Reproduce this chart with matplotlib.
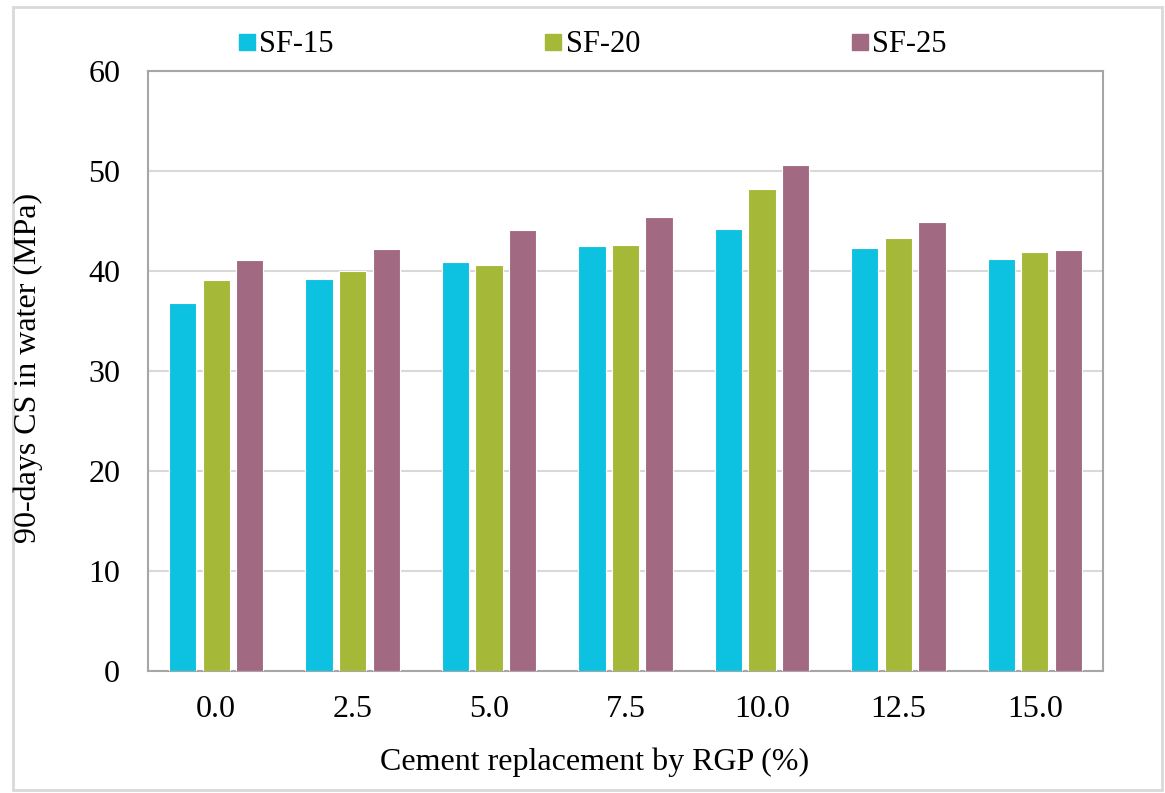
import numpy as np
import matplotlib.pyplot as plt
from matplotlib.patches import Rectangle
from matplotlib.lines import Line2D

plt.rcParams['font.family'] = ['Liberation Serif', 'DejaVu Serif']

categories = ['0.0', '2.5', '5.0', '7.5', '10.0', '12.5', '15.0']
sf15 = [36.8, 39.2, 40.9, 42.5, 44.2, 42.3, 41.2]
sf20 = [39.1, 40.0, 40.6, 42.6, 48.2, 43.3, 41.9]
sf25 = [41.1, 42.2, 44.1, 45.4, 50.6, 44.9, 42.1]
series = ['SF-15', 'SF-20', 'SF-25']
colors = ['#0DC1E0', '#A6B837', '#A26A82']

fig = plt.figure(figsize=(11.65, 7.93), dpi=100)
ax = fig.add_axes([148/1165, 1 - 671/793, (1103-148)/1165, 600/793])

x = np.arange(len(categories))
step = 0.246
for i, (vals, c) in enumerate(zip([sf15, sf20, sf25], colors)):
    ax.bar(x + (i - 1) * step, vals, width=0.2, color=c, edgecolor='white',
           linewidth=0.8, zorder=3)

ax.set_xlim(-0.5, len(categories) - 0.5)
ax.set_ylim(0, 60)
ax.set_yticks(range(0, 61, 10))
ax.set_xticks(x)
ax.set_xticklabels(categories)
ax.grid(axis='y', color='#D9D9D9', linewidth=1.5, zorder=0)
ax.tick_params(length=0, labelsize=23)
ax.tick_params(axis='y', pad=20)
ax.tick_params(axis='x', pad=17)
for s in ax.spines.values():
    s.set_color('#A6A6A6')
    s.set_linewidth(1.5)

fig.text(595/1165, 1 - 762/793, 'Cement replacement by RGP (%)', ha='center',
         va='center', fontsize=23)
fig.text(28/1165, 1 - 368/793, '90-days CS in water (MPa)', ha='center',
         va='center', rotation=90, fontsize=23)

handles = [Line2D([], [], marker='s', linestyle='none', markersize=11,
                  markerfacecolor=c, markeredgecolor=c) for c in colors]
fig.legend(handles, series, loc='center', ncol=3, frameon=False, fontsize=22,
           bbox_to_anchor=(592/1165, 1 - 45/793), columnspacing=6.9,
           handletextpad=0.1, handlelength=0.6)

fig.patches.append(Rectangle((13/1165, 3/793), 1149/1165, 783/793,
                             transform=fig.transFigure, fill=False,
                             edgecolor='#D9D9D9', linewidth=2))

fig.savefig('out.png', dpi=100)
